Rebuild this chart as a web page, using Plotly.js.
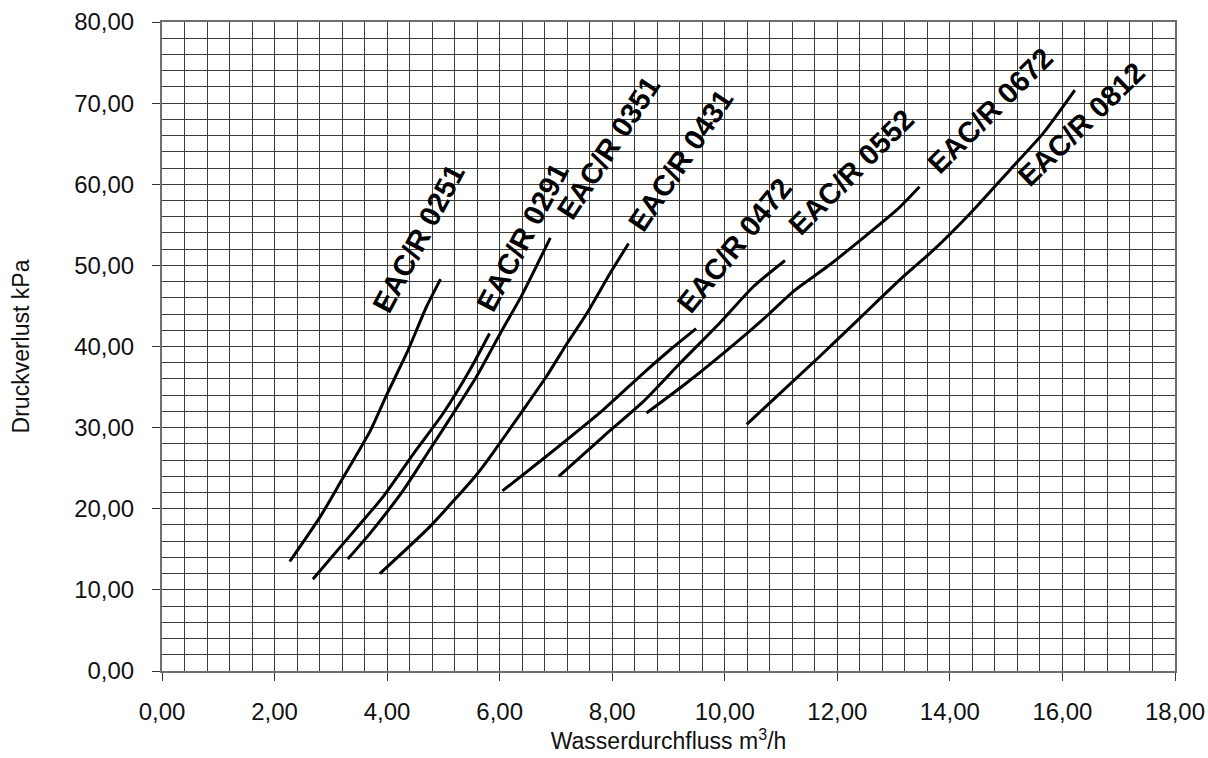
<!DOCTYPE html>
<html>
<head>
<meta charset="utf-8">
<script src="https://cdn.plot.ly/plotly-3.0.1.min.js"></script>
<style>
html,body{margin:0;padding:0;background:#fff;}
#chart{width:1208px;height:758px;}
</style>
</head>
<body>
<div id="chart"></div>
<script>
// Wasserdurchfluss (m3/h) und Druckverlust (kPa) je Modell
const models = ["EAC/R 0251","EAC/R 0291","EAC/R 0351","EAC/R 0431","EAC/R 0472","EAC/R 0552","EAC/R 0672","EAC/R 0812"];

const flow0251 = [2.27, 2.81, 3.19, 3.70, 3.99, 4.35, 4.70, 4.95];
const drop0251 = [13.5, 19.0, 23.5, 29.6, 34.0, 39.2, 44.9, 48.3];

const flow0291 = [2.68, 3.22, 3.93, 4.47, 5.00, 5.47, 5.82];
const drop0291 = [11.3, 15.7, 21.5, 26.8, 31.8, 37.1, 41.6];

const flow0351 = [3.30, 3.70, 4.29, 4.76, 5.18, 5.59, 6.01, 6.40, 6.90];
const drop0351 = [13.8, 17.0, 22.3, 27.3, 31.8, 36.3, 41.6, 46.4, 53.4];

const flow0431 = [3.87, 4.76, 5.59, 5.83, 6.42, 6.83, 7.20, 7.55, 7.96, 8.29];
const drop0431 = [12.0, 17.8, 24.2, 26.4, 32.2, 36.3, 40.4, 44.1, 49.0, 52.7];

const flow0472 = [6.05, 6.78, 7.84, 8.55, 9.03, 9.49];
const drop0472 = [22.2, 26.2, 32.2, 36.7, 39.6, 42.2];

const flow0552 = [7.05, 7.84, 8.55, 9.20, 9.91, 10.51, 11.07];
const drop0552 = [24.0, 28.9, 33.2, 37.9, 42.9, 47.4, 50.6];

const flow0672 = [8.61, 9.32, 10.39, 10.80, 11.22, 11.87, 13.05, 13.46];
const drop0672 = [31.8, 35.5, 41.6, 44.1, 46.8, 50.1, 56.8, 59.7];

const flow0812 = [10.39, 11.69, 12.40, 13.17, 13.71, 14.36, 15.07, 15.66, 16.22];
const drop0812 = [30.4, 38.8, 43.5, 48.6, 51.9, 56.4, 61.8, 66.3, 71.6];

const flows = [flow0251, flow0291, flow0351, flow0431, flow0472, flow0552, flow0672, flow0812];
const drops = [drop0251, drop0291, drop0351, drop0431, drop0472, drop0552, drop0672, drop0812];

const traces = models.map((m, i) => ({
  type: "scatter",
  mode: "lines",
  name: m,
  x: flows[i],
  y: drops[i],
  line: {color: "#000000", width: 3, shape: "spline", smoothing: 0.6},
  hoverinfo: "x+y+name"
}));

// label placement (data coordinates) and rotation
const labelX = [4.55, 6.41, 7.93, 9.22, 10.18, 12.25, 14.73, 16.34];
const labelY = [53.3, 53.5, 64.5, 63.0, 52.5, 61.5, 69.1, 67.4];
const labelAngle = [-62, -62, -57, -56, -51, -45, -45, -44];

const annotations = models.map((m, i) => ({
  xref: "x", yref: "y",
  x: labelX[i], y: labelY[i],
  text: "<b>" + m + "</b>",
  showarrow: false,
  textangle: labelAngle[i],
  xanchor: "center", yanchor: "middle",
  font: {family: "Liberation Sans, Arial, sans-serif", size: 29, color: "#000000"}
}));

const gridCol = "#3c3c3c";
const layout = {
  width: 1208, height: 758,
  margin: {l: 162, r: 33, t: 22, b: 87, pad: 0},
  paper_bgcolor: "#ffffff",
  plot_bgcolor: "#ffffff",
  showlegend: false,
  separators: ",.",
  font: {family: "Liberation Sans, Arial, sans-serif", size: 23, color: "#000000"},
  xaxis: {
    range: [0, 18],
    dtick: 2, tick0: 0,
    tickformat: ".2f",
    ticks: "outside", ticklen: 8, tickcolor: "#333", tickwidth: 1,
    ticklabelstandoff: 10,
    showgrid: true, gridcolor: gridCol, gridwidth: 1,
    minor: {dtick: 0.4, showgrid: true, gridcolor: gridCol, gridwidth: 1, ticks: ""},
    showline: true, linecolor: "#6e6e6e", linewidth: 2, mirror: true,
    zeroline: false,
    tickfont: {size: 24, color: "#111"},
    title: {text: "Wasserdurchfluss m<sup>3</sup>/h", font: {size: 23, color: "#111"}, standoff: 8}
  },
  yaxis: {
    range: [0, 80],
    dtick: 10, tick0: 0,
    tickformat: ".2f",
    ticks: "outside", ticklen: 8, tickcolor: "#333", tickwidth: 1,
    ticklabelstandoff: 13,
    showgrid: true, gridcolor: gridCol, gridwidth: 1,
    minor: {dtick: 2, showgrid: true, gridcolor: gridCol, gridwidth: 1, ticks: ""},
    showline: true, linecolor: "#6e6e6e", linewidth: 2, mirror: true,
    zeroline: false,
    tickfont: {size: 24, color: "#111"},
    title: {text: "Druckverlust kPa", font: {size: 23, color: "#111"}, standoff: 38}
  },
  annotations: annotations
};

Plotly.newPlot("chart", traces, layout, {displayModeBar: false, staticPlot: true});
</script>
</body>
</html>
